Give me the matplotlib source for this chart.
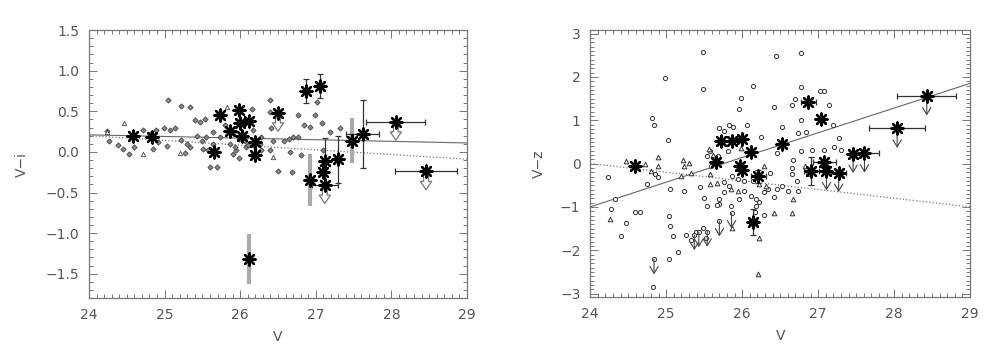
import matplotlib
matplotlib.use('Agg')
import matplotlib.pyplot as plt
from matplotlib.ticker import MultipleLocator

# ---------- Dados: painel V-i ---------- #
vi_pts_v = [24.24, 24.27, 24.38, 24.45, 24.53, 24.6, 24.72, 24.81, 24.84, 24.89, 24.91, 24.99,
            25.03, 25.07, 25.14, 25.05, 25.22, 25.33, 25.22, 25.29, 25.27, 25.33, 25.4, 25.47,
            25.53, 25.43, 25.49, 25.55, 25.51, 25.6, 25.69, 25.64, 25.58, 25.8, 25.86, 25.91,
            25.95, 26.06, 26.08, 26.16, 26.17, 26.26, 26.28, 25.99, 26.39, 26.39, 26.41, 26.44,
            26.39, 26.5, 26.58, 26.64, 26.7, 26.66, 26.69, 26.77, 26.76, 26.81, 26.84, 26.92,
            26.99, 27.01, 27.08, 27.09, 27.19, 27.32, 26.15, 26.28, 25.91, 25.99, 25.73, 25.93,
            26.1, 25.64, 26.17]
vi_pts_c = [0.26, 0.14, 0.09, 0.04, -0.02, 0.06, 0.27, 0.22, 0.04, 0.27, 0.12, 0.30,
            0.07, 0.27, 0.29, 0.64, 0.57, 0.55, 0.15, 0.10, -0.01, 0.06, 0.39, 0.37,
            0.40, 0.20, 0.14, 0.18, 0.04, -0.18, -0.18, 0.10, 0.02, 0.33, 0.10, -0.02,
            0.02, 0.14, 0.06, 0.53, 0.27, 0.10, 0.02, -0.08, 0.64, 0.49, 0.29, 0.14,
            0.02, -0.23, 0.14, 0.16, 0.18, 0.00, -0.25, 0.46, 0.18, -0.04, 0.33, 0.31,
            0.46, 0.61, 0.35, 0.02, 0.25, 0.30, -0.04, 0.18, 0.23, 0.16, 0.18, 0.06,
            0.08, 0.25, 0.08]
vi_tri_v = [24.46, 24.72, 25.2, 25.82, 26.44, 24.24]
vi_tri_c = [0.35, -0.02, -0.01, 0.55, -0.06, 0.24]

vi_star_v = [24.58, 24.83, 25.73, 25.66, 25.86, 25.99, 26.0, 26.02, 26.12, 26.2, 26.2, 26.12,
             26.5, 26.87, 27.06, 26.92, 27.09, 27.12, 27.12, 27.29, 27.48, 27.62, 28.06, 28.46]
vi_star_c = [0.20, 0.18, 0.46, 0.0, 0.26, 0.52, 0.35, 0.20, 0.38, 0.12, -0.04, -1.32,
             0.48, 0.75, 0.81, -0.35, -0.25, -0.11, -0.41, -0.09, 0.14, 0.22, 0.37, -0.24]
vi_star_yerr = [0, 0, 0, 0.05, 0, 0, 0, 0, 0, 0, 0, 0.31,
                0, 0.15, 0.15, 0.32, 0, 0.28, 0, 0.29, 0.28, 0.42, 0, 0]
vi_star_xerr = [0, 0, 0, 0, 0, 0, 0, 0, 0, 0, 0, 0,
                0, 0, 0, 0, 0, 0, 0.17, 0, 0, 0.22, 0.39, 0.41]
vi_grey_err = [3, 11, 15, 20]          # barras de erro cinzas (índices)
vi_limit = [12, 18, 22, 23]            # limites superiores (setas vazadas)

vi_fit_v = [24, 29]
vi_fit_solid = [0.21, 0.11]
vi_fit_dot = [0.20, -0.09]

# ---------- Dados: painel V-z ---------- #
vz_pts_v = [24.24, 24.28, 24.33, 24.4, 24.47, 24.59, 24.65, 24.75, 24.81, 24.84, 24.85, 24.89,
            24.84, 24.82, 24.99, 25.02, 25.05, 25.04, 25.05, 25.09, 25.04, 25.16, 25.23, 25.26,
            25.33, 25.39, 25.48, 25.49, 25.48, 25.54, 25.5, 25.58, 25.7, 25.76, 25.83, 25.88,
            25.96, 25.98, 26.07, 26.14, 26.25, 26.44, 26.42, 26.53, 26.65, 26.7, 26.77, 26.77,
            26.77, 26.73, 26.84, 27.02, 27.08, 27.14, 27.19, 27.28, 27.21, 27.3, 26.92, 27.08,
            26.77, 26.67, 26.66, 26.72, 26.73, 26.86, 25.82, 25.68, 25.76, 25.83, 25.76, 25.7,
            25.7, 25.85, 25.96, 26.03, 25.87, 25.94, 26.03, 26.14, 26.18, 26.22, 26.29, 26.34,
            26.42, 26.46, 26.53, 26.6, 26.29, 26.17, 26.18, 26.11, 26.37, 26.46, 26.66, 25.44,
            25.59, 25.54, 25.67, 25.7, 25.86, 25.54, 25.52, 25.37, 25.43]
vz_pts_c = [-0.32, -1.06, -0.82, -1.67, -1.37, -1.12, -1.12, -0.48, 1.06, 0.88, -0.25, -0.32,
            -2.21, -2.84, 1.98, 0.54, -0.59, -1.21, -1.44, -1.67, -2.20, -2.05, -0.63, -1.66,
            -1.76, -1.57, -1.49, 2.58, 1.71, -0.97, -0.80, 0.28, 0.81, 0.74, 0.88, 0.85,
            1.26, 1.52, 0.88, 1.79, 0.62, 2.49, 1.31, 0.85, 1.34, 1.49, 2.54, 1.77,
            1.01, 0.71, 0.73, 1.68, 1.68, 1.36, 0.88, 0.60, 0.39, 0.32, 0.32, 0.32,
            0.28, 0.09, -0.25, -0.40, -0.63, -0.25, 0.28, 0.17, -0.42, -0.51, -0.66, -0.82,
            -0.93, -0.97, -0.82, -0.63, -0.29, -0.36, -0.40, -0.40, -0.82, -0.89, -0.66, -0.59,
            -0.78, -0.59, -0.51, -0.63, -1.19, -1.12, -0.97, -0.74, -0.21, 0.24, -0.10, -0.55,
            -0.06, 0.17, -0.95, -1.33, -1.15, -1.57, -1.72, -1.65, -1.58]
vz_pts_limit = [12, 99, 100, 101, 103, 104]

vz_tri_v = [24.47, 24.26, 24.72, 24.89, 24.89, 24.8, 25.22, 25.24, 25.3, 25.32, 25.2, 25.57,
            25.61, 25.58, 25.67, 25.94, 25.85, 25.98, 26.21, 26.22, 26.29, 26.21, 26.22, 26.42,
            26.65, 26.67, 26.83, 25.87, 26.31, 25.58]
vz_tri_c = [0.05, -1.27, -0.02, 0.14, -0.06, -0.17, 0.09, -0.06, 0.02, -0.21, -0.29, 0.34,
            0.20, -0.25, -0.45, -0.63, -0.59, 0.35, -0.21, -0.48, -0.06, -2.54, -1.72, -1.15,
            -1.15, -0.82, -0.06, -1.49, -0.51, -0.48]

vz_star_v = [24.59, 25.65, 25.72, 25.86, 26.0, 26.12, 25.97, 26.0, 26.21, 26.14, 26.52,
             26.87, 27.04, 26.91, 27.08, 27.11, 27.27, 27.46, 27.61, 28.04, 28.43]
vz_star_c = [-0.06, 0.03, 0.51, 0.51, 0.56, 0.26, -0.06, -0.14, -0.29, -1.36, 0.45,
             1.41, 1.03, -0.17, 0.03, -0.17, -0.21, 0.23, 0.24, 0.81, 1.56]
vz_star_yerr = [0, 0, 0, 0, 0, 0, 0, 0, 0.15, 0.30, 0,
                0, 0, 0.33, 0, 0, 0, 0, 0, 0, 0]
vz_star_xerr = [0, 0, 0, 0, 0, 0, 0, 0, 0.10, 0.05, 0,
                0.10, 0, 0.10, 0.15, 0, 0.10, 0, 0.19, 0.37, 0.39]
vz_limit = [15, 16, 17, 18, 19, 20]

vz_fit_v = [24, 29]
vz_fit_solid = [-1.0, 1.85]
vz_fit_dot = [0.0, -1.0]

# ---------- Estilo ---------- #
COR_TXT = '#555555'
COR_EIXO = '#777777'
plt.rcParams['font.family'] = ['DejaVu Sans']
plt.rcParams['font.size'] = 10

fig = plt.figure(figsize=(9.97, 3.54), dpi=100)
ax1 = fig.add_axes([0.0893, 0.158, 0.379, 0.757])
ax2 = fig.add_axes([0.592, 0.161, 0.381, 0.754])


def estilo_eixo(ax, ymaj, ymin):
    ax.xaxis.set_major_locator(MultipleLocator(1))
    ax.xaxis.set_minor_locator(MultipleLocator(0.1))
    ax.yaxis.set_major_locator(MultipleLocator(ymaj))
    ax.yaxis.set_minor_locator(MultipleLocator(ymin))
    ax.tick_params(which='both', direction='in', top=True, right=True,
                   colors=COR_EIXO, labelcolor=COR_TXT, width=0.7)
    ax.tick_params(which='major', length=6, pad=7)
    ax.tick_params(which='minor', length=3)
    for s in ax.spines.values():
        s.set_color(COR_EIXO)
        s.set_linewidth(0.9)


def seta_vazada(ax, x, y, comp):
    ax.annotate('', xy=(x, y - comp), xytext=(x, y),
                arrowprops=dict(arrowstyle='simple,head_width=0.8,head_length=0.6,tail_width=0.35',
                                fc='white', ec='#777777', lw=0.9), zorder=3)


def seta_fina(ax, x, y, comp):
    ax.annotate('', xy=(x, y - comp), xytext=(x, y),
                arrowprops=dict(arrowstyle='->,head_width=0.3,head_length=0.5',
                                color='#444444', lw=0.8, shrinkA=0, shrinkB=0), zorder=3)


# ---------- Painel esquerdo: V-i ---------- #
ax1.plot(vi_fit_v, vi_fit_solid, color='#666666', lw=0.8, zorder=1)
ax1.plot(vi_fit_v, vi_fit_dot, color='#777777', lw=0.9, ls=':', zorder=1)
ax1.scatter(vi_pts_v, vi_pts_c, marker='D', s=7, facecolor='#888888',
            edgecolor='#444444', linewidths=0.6, zorder=2)
ax1.scatter(vi_tri_v, vi_tri_c, marker='^', s=10, facecolor='white',
            edgecolor='#444444', linewidths=0.6, zorder=2)

for i, (x, y) in enumerate(zip(vi_star_v, vi_star_c)):
    if i in vi_limit:
        seta_vazada(ax1, x, y, 0.26)
    ye, xe = vi_star_yerr[i], vi_star_xerr[i]
    if ye > 0 and i in vi_grey_err:
        ax1.errorbar(x, y, yerr=ye, fmt='none', ecolor='#aaaaaa', elinewidth=3,
                     capsize=0, zorder=2)
    elif ye > 0:
        ax1.errorbar(x, y, yerr=ye, fmt='none', ecolor='#333333', elinewidth=0.9,
                     capsize=2.5, capthick=0.9, zorder=2)
    if xe > 0:
        ax1.errorbar(x, y, xerr=xe, fmt='none', ecolor='#333333', elinewidth=0.9,
                     capsize=2.5, capthick=0.9, zorder=2)

ax1.scatter(vi_star_v, vi_star_c, marker=(8, 2, 0), s=75, color='black',
            linewidths=1.7, zorder=4)

ax1.set_xlim(24, 29)
ax1.set_ylim(-1.8, 1.5)
estilo_eixo(ax1, 0.5, 0.1)
ax1.set_xlabel('V', color=COR_TXT, labelpad=6)
ax1.set_ylabel('V\u2212i', color=COR_TXT, labelpad=12)

# ---------- Painel direito: V-z ---------- #
ax2.plot(vz_fit_v, vz_fit_solid, color='#666666', lw=0.8, zorder=1)
ax2.plot(vz_fit_v, vz_fit_dot, color='#777777', lw=0.9, ls=':', zorder=1)

for i in vz_pts_limit:
    seta_fina(ax2, vz_pts_v[i], vz_pts_c[i], 0.35)

ax2.scatter(vz_pts_v, vz_pts_c, marker='o', s=9, facecolor='white',
            edgecolor='#333333', linewidths=0.7, zorder=2)
ax2.scatter(vz_tri_v, vz_tri_c, marker='^', s=11, facecolor='white',
            edgecolor='#333333', linewidths=0.7, zorder=2)

for i, (x, y) in enumerate(zip(vz_star_v, vz_star_c)):
    if i in vz_limit:
        seta_fina(ax2, x, y, 0.45)
    ye, xe = vz_star_yerr[i], vz_star_xerr[i]
    if ye > 0 or xe > 0:
        ax2.errorbar(x, y, yerr=ye if ye > 0 else None, xerr=xe if xe > 0 else None,
                     fmt='none', ecolor='#333333', elinewidth=0.9,
                     capsize=2.5, capthick=0.9, zorder=2)

ax2.scatter(vz_star_v, vz_star_c, marker=(8, 2, 0), s=75, color='black',
            linewidths=1.7, zorder=4)

ax2.set_xlim(24, 29)
ax2.set_ylim(-3.08, 3.08)
estilo_eixo(ax2, 1, 0.1)
ax2.set_xlabel('V', color=COR_TXT, labelpad=6)
ax2.set_ylabel('V\u2212z', color=COR_TXT, labelpad=10)

fig.savefig('out.png', dpi=100)
